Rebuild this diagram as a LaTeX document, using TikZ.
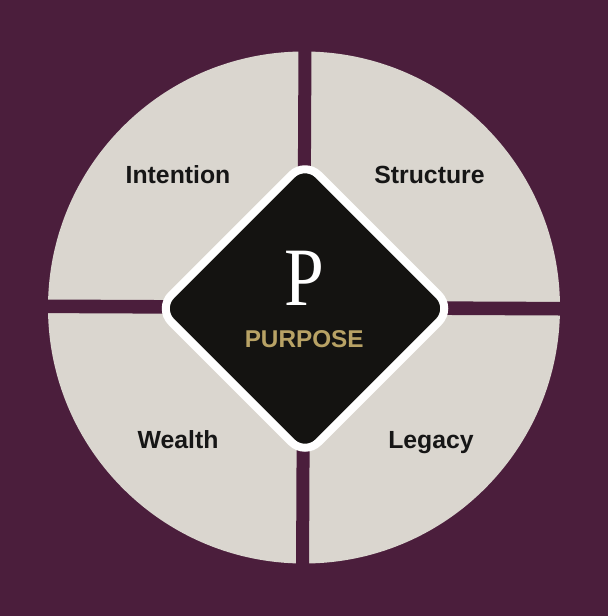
\documentclass[tikz,border=0pt]{standalone}
\usepackage{fontspec}
\newfontfamily\labelfont{Liberation Sans}
\newfontfamily\initialfont{Liberation Serif}
\definecolor{bgpurple}{HTML}{4B1E3C}
\definecolor{quadgrey}{HTML}{DAD6CF}
\definecolor{diamondblack}{HTML}{141311}
\definecolor{gold}{HTML}{B8A265}
\definecolor{labeltext}{HTML}{161616}
\begin{document}
\begin{tikzpicture}[x=1pt,y=1pt,
  quadlabel/.style={anchor=base,inner sep=0pt,text=labeltext,font=\labelfont\bfseries\fontsize{24.8}{28}\selectfont},
  gaps/.style={fill=bgpurple},
  diamondbox/.style={fill=diamondblack,draw=white,line width=8pt,rounded corners=19pt}]
\fill[bgpurple] (0,0) rectangle (608,-616);
\useasboundingbox (0,0) rectangle (608,-616);
% disk of quadrants
\fill[quadgrey] (304,-307.5) circle[radius=256];
% separating cross (slightly rotated)
\begin{scope}[shift={(303.75,-307.5)},rotate=-0.27]
  \fill[gaps] (-6.5,-270) rectangle (6.5,270);
  \fill[gaps] (-270,-6.8) rectangle (270,6.8);
\end{scope}
% central diamond
\coordinate (c) at (305,-308.5);
\draw[diamondbox] ([xshift=-73.5pt,yshift=73.5pt]c) -- ([yshift=147.1pt]c) -- ([xshift=147.1pt]c) -- ([yshift=-147.1pt]c) -- ([xshift=-147.1pt]c) -- cycle;
\node[anchor=base,inner sep=0pt,text=white,font=\initialfont\fontsize{83}{83}\selectfont] (bigp) at (304.2,-305) {\scalebox{0.86}[1]{P}};
\node[anchor=base,inner sep=0pt,text=gold,font=\labelfont\bfseries\fontsize{24.3}{28}\selectfont] (purpose) at (304.2,-347.3) {PURPOSE};
% quadrant labels
\node[quadlabel] (intention) at (178,-183.3) {Intention};
\node[quadlabel] (structure) at (429.5,-183.3) {Structure};
\node[quadlabel] (wealth) at (178,-448.3) {Wealth};
\node[quadlabel] (legacy) at (431,-448.3) {Legacy};
\end{tikzpicture}
\end{document}
